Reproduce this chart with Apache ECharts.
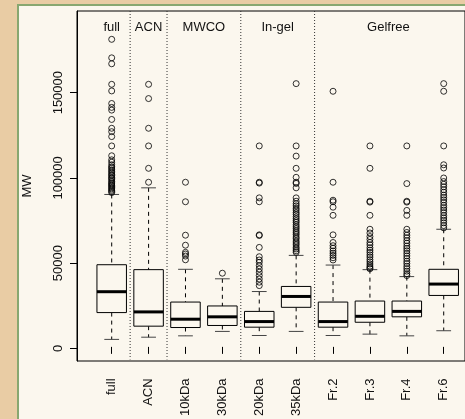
<!DOCTYPE html>
<html><head><meta charset="utf-8">
<script src="https://cdn.jsdelivr.net/npm/echarts@6/dist/echarts.min.js"></script>
<style>
html,body{margin:0;padding:0;background:#e9cca4;}
#c{width:465px;height:419px;}
</style>
</head><body><div id="c"></div>
<script>
const categories = ['full','ACN','10kDa','30kDa','20kDa','35kDa','Fr.2','Fr.3','Fr.4','Fr.6'];
const whiskerLow  = [4400, 5700, 6500, 9100, 6700, 9100, 6700, 7500, 6500, 9500];
const q1          = [20200, 12200, 11400, 12600, 11600, 23300, 11600, 14500, 17700, 30300];
const median      = [32500, 20600, 16300, 17700, 14900, 29700, 14900, 18000, 20900, 37000];
const q3          = [48400, 45500, 26400, 24100, 20900, 35600, 26400, 27000, 27000, 45700];
const whiskerHigh = [89800, 93700, 45700, 40100, 32600, 53900, 48200, 45500, 41400, 69300];

const outFull = [181200, 170300, 166800, 154700, 150800, 143400, 141100, 139500, 134000, 128800, 126800, 123900, 118400, 112600, 110200, 108800, 107300, 106100, 105400, 104300, 103500, 102500, 101600, 100900, 99900, 99300, 98400, 97500, 96600, 96000, 95200, 94600, 93800, 93100, 92300, 91600, 90900];
const outACN = [154700, 146300, 128800, 118400, 105200, 97000];
const out10kDa = [97000, 85500, 65800, 59900, 55700, 54700, 53500, 51300];
const out30kDa = [43400];
const out20kDa = [118400, 97000, 96500, 87800, 85500, 66000, 65600, 58600, 53100, 51200, 49800, 47800, 45900, 44000, 42000, 40000, 38100, 36100];
const out35kDa = [155100, 118400, 112400, 105200, 99900, 97000, 96300, 93700, 87800, 85800, 84300, 83100, 81700, 80600, 79200, 78100, 76700, 75500, 74300, 73300, 71900, 70700, 69600, 68300, 67200, 66100, 64700, 63700, 62300, 61200, 60100, 58700, 57700, 56600, 55700];
const outFr2 = [150600, 97000, 86400, 85500, 82300, 77500, 66000, 61500, 59600, 58100, 56500, 55200, 53900, 52500, 51200];
const outFr3 = [118400, 105200, 85800, 85300, 77500, 69300, 67100, 65000, 63300, 61500, 60100, 58400, 57000, 55700, 54200, 52900, 51400, 50100, 48800, 47600, 46600, 46000];
const outFr4 = [118400, 96200, 85800, 85300, 80400, 77500, 69300, 67400, 65800, 64300, 62600, 61100, 59400, 58000, 56600, 55100, 53600, 52100, 50500, 49100, 47500, 46100, 44600, 43100, 42000];
const outFr6 = [155100, 150600, 118400, 107300, 105400, 99500, 97400, 95800, 94300, 92600, 91100, 89400, 88000, 86600, 85100, 83400, 82000, 80600, 79100, 77400, 76000, 74600, 73100, 71500, 70100];
const outlierLists = [outFull, outACN, out10kDa, out30kDa, out20kDa, out35kDa, outFr2, outFr3, outFr4, outFr6];

const groupNames = ['full', 'ACN', 'MWCO', 'In-gel', 'Gelfree'];
const groupFirst = [0, 1, 2, 4, 6];
const groupLast  = [0, 1, 3, 5, 9];

const yTicks = [0, 50000, 100000, 150000];
const yMin = -7400, yMax = 197900;

const FONT = '"Liberation Sans", Arial, Helvetica, sans-serif';

const boxData = categories.map((c, i) => [i, whiskerLow[i], q1[i], median[i], q3[i], whiskerHigh[i]]);
const outlierData = [];
outlierLists.forEach((lst, i) => lst.forEach(v => outlierData.push([i, v])));
const groupData = groupNames.map((g, k) => [groupFirst[k], groupLast[k]]);
const sepData = groupLast.slice(0, groupLast.length - 1).map(v => [v, yMin]);

function renderBox(params, api) {
  const i = api.value(0);
  const bw = api.size([1, 0])[0];
  const x = api.coord([i, 0])[0];
  const yl = api.coord([i, api.value(1)])[1];
  const y1 = api.coord([i, api.value(2)])[1];
  const ym = api.coord([i, api.value(3)])[1];
  const y3 = api.coord([i, api.value(4)])[1];
  const yh = api.coord([i, api.value(5)])[1];
  const hb = bw * 0.4, hc = bw * 0.2;
  const dash = { stroke: '#000', lineWidth: 1, lineDash: [4, 4], fill: null };
  return { type: 'group', children: [
    { type: 'line', shape: { x1: x, y1: yh, x2: x, y2: y3 }, style: dash },
    { type: 'line', shape: { x1: x, y1: y1, x2: x, y2: yl }, style: dash },
    { type: 'line', shape: { x1: x - hc, y1: yh, x2: x + hc, y2: yh }, style: { stroke: '#444', lineWidth: 1 } },
    { type: 'line', shape: { x1: x - hc, y1: yl, x2: x + hc, y2: yl }, style: { stroke: '#444', lineWidth: 1 } },
    { type: 'rect', shape: { x: x - hb, y: y3, width: 2 * hb, height: y1 - y3 }, style: { stroke: '#000', lineWidth: 1, fill: '#fbf7ee' } },
    { type: 'line', shape: { x1: x - hb, y1: ym, x2: x + hb, y2: ym }, style: { stroke: '#000', lineWidth: 3 } }
  ]};
}

function renderGroup(params, api) {
  const a = api.value(0), b = api.value(1);
  const pa = api.coord([a, yMax]);
  const pb = api.coord([b, yMax]);
  return { type: 'text', style: {
    x: (pa[0] + pb[0]) / 2, y: pa[1] + 16, text: groupNames[params.dataIndex],
    fill: '#111', font: '13px ' + FONT, align: 'center', verticalAlign: 'middle'
  }};
}

function renderSep(params, api) {
  const i = api.value(0);
  const bw = api.size([1, 0])[0];
  const x = api.coord([i, yMin])[0] + bw / 2;
  const yb = api.coord([i, yMin])[1];
  const yt = api.coord([i, yMax])[1];
  return { type: 'line', shape: { x1: x, y1: yt, x2: x, y2: yb },
    style: { stroke: '#333', lineWidth: 1, lineDash: [1, 2] } };
}

const chart = echarts.init(document.getElementById('c'), null, { renderer: 'canvas' });
chart.setOption({
  animation: false,
  backgroundColor: 'transparent',
  textStyle: { fontFamily: FONT },
  graphic: [{
    type: 'rect', left: 17, top: 4, z: -10,
    shape: { width: 470, height: 430 },
    style: { fill: '#fbf7ee', stroke: '#88a770', lineWidth: 2 }
  }],
  grid: [
    { left: 77, right: -12, top: 11, bottom: 58, show: true, borderColor: '#000', borderWidth: 1, backgroundColor: 'transparent' },
    { left: 93.25, right: 2.85, top: 11, bottom: 58 }
  ],
  xAxis: [
    { type: 'value', gridIndex: 0, show: false, min: 0, max: 1 },
    { type: 'category', gridIndex: 1, data: categories, boundaryGap: true,
      axisLine: { show: false },
      axisTick: { show: true, alignWithLabel: true, length: 7, lineStyle: { color: '#000' } },
      axisLabel: { rotate: 90, margin: 19, color: '#111', fontSize: 13, fontFamily: FONT, interval: 0 },
      splitLine: { show: false } }
  ],
  yAxis: [
    { type: 'value', gridIndex: 0, min: yMin, max: yMax,
      name: 'MW', nameLocation: 'middle', nameGap: 43, nameRotate: 90,
      nameTextStyle: { color: '#111', fontSize: 13, fontFamily: FONT },
      axisLine: { show: true, lineStyle: { color: '#000' } },
      axisTick: { show: true, length: 7, customValues: yTicks, lineStyle: { color: '#000' } },
      axisLabel: { rotate: 90, margin: 12, color: '#111', fontSize: 13, fontFamily: FONT, customValues: yTicks, formatter: v => String(v) },
      splitLine: { show: false } },
    { type: 'value', gridIndex: 1, min: yMin, max: yMax, show: false, splitLine: { show: false } }
  ],
  series: [
    { type: 'custom', xAxisIndex: 1, yAxisIndex: 1, renderItem: renderSep, data: sepData, encode: { x: 0, y: 1 }, silent: true, z: 1 },
    { type: 'custom', xAxisIndex: 1, yAxisIndex: 1, renderItem: renderGroup, data: groupData, encode: { x: [0, 1] }, silent: true, z: 2 },
    { type: 'custom', xAxisIndex: 1, yAxisIndex: 1, renderItem: renderBox, data: boxData, encode: { x: 0, y: [1, 2, 3, 4, 5] }, z: 3 },
    { type: 'scatter', xAxisIndex: 1, yAxisIndex: 1, data: outlierData, symbol: 'circle', symbolSize: 6,
      itemStyle: { color: 'rgba(0,0,0,0)', borderColor: '#000', borderWidth: 1 }, z: 4 }
  ]
});
</script>
</body></html>
